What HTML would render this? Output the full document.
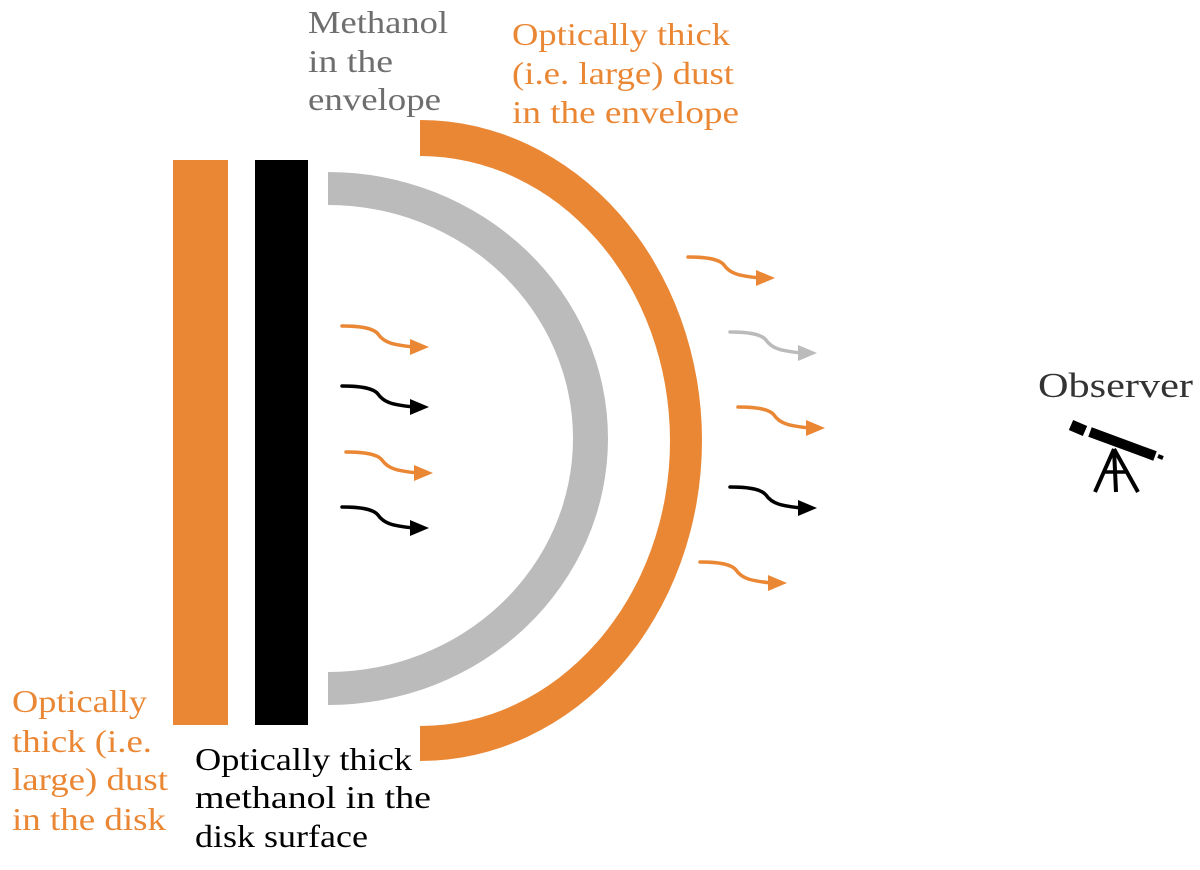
<!DOCTYPE html>
<html><head><meta charset="utf-8"><style>
html,body{margin:0;padding:0;background:#fff;}
svg{display:block;}
text{font-family:"Liberation Serif","DejaVu Serif",serif;font-size:32px;}
</style></head><body>
<svg width="1200" height="870" viewBox="0 0 1200 870" xmlns="http://www.w3.org/2000/svg">
<rect x="173" y="160" width="55" height="565" fill="#ea8735"/>
<rect x="255" y="160" width="53" height="565" fill="#000"/>
<path d="M328,172 A280,266.5 0 0 1 328,705 L328,672 A245,233.5 0 0 0 328,205 Z" fill="#bbbbbb"/>
<path d="M420,120 A282,320.5 0 0 1 420,761 L420,726 A250,285 0 0 0 420,156 Z" fill="#ea8735"/>
<g fill="none" stroke-width="3.5" stroke-linecap="round">
<g transform="translate(342,326)"><path d="M0,0 C22,0 32,3 36,8 C42,17 52,19 72,21" stroke="#ea8735"/><path d="M68,13 L87,21 L68,29 Z" fill="#ea8735" stroke="none"/></g>
<g transform="translate(342,386)"><path d="M0,0 C22,0 32,3 36,8 C42,17 52,19 72,21" stroke="#000"/><path d="M68,13 L87,21 L68,29 Z" fill="#000" stroke="none"/></g>
<g transform="translate(346,452)"><path d="M0,0 C22,0 32,3 36,8 C42,17 52,19 72,21" stroke="#ea8735"/><path d="M68,13 L87,21 L68,29 Z" fill="#ea8735" stroke="none"/></g>
<g transform="translate(342,507)"><path d="M0,0 C22,0 32,3 36,8 C42,17 52,19 72,21" stroke="#000"/><path d="M68,13 L87,21 L68,29 Z" fill="#000" stroke="none"/></g>
<g transform="translate(688,257)"><path d="M0,0 C22,0 32,3 36,8 C42,17 52,19 72,21" stroke="#ea8735"/><path d="M68,13 L87,21 L68,29 Z" fill="#ea8735" stroke="none"/></g>
<g transform="translate(730,332)"><path d="M0,0 C22,0 32,3 36,8 C42,17 52,19 72,21" stroke="#bbbbbb"/><path d="M68,13 L87,21 L68,29 Z" fill="#bbbbbb" stroke="none"/></g>
<g transform="translate(738,407)"><path d="M0,0 C22,0 32,3 36,8 C42,17 52,19 72,21" stroke="#ea8735"/><path d="M68,13 L87,21 L68,29 Z" fill="#ea8735" stroke="none"/></g>
<g transform="translate(730,487)"><path d="M0,0 C22,0 32,3 36,8 C42,17 52,19 72,21" stroke="#000"/><path d="M68,13 L87,21 L68,29 Z" fill="#000" stroke="none"/></g>
<g transform="translate(700,562)"><path d="M0,0 C22,0 32,3 36,8 C42,17 52,19 72,21" stroke="#ea8735"/><path d="M68,13 L87,21 L68,29 Z" fill="#ea8735" stroke="none"/></g>
</g>
<g fill="#6e6e6e">
<text x="308" y="33" textLength="140" lengthAdjust="spacingAndGlyphs">Methanol</text>
<text x="308" y="72" textLength="85" lengthAdjust="spacingAndGlyphs">in the</text>
<text x="308" y="110" textLength="133" lengthAdjust="spacingAndGlyphs">envelope</text>
</g>
<g fill="#ea8735">
<text x="512" y="45" textLength="218" lengthAdjust="spacingAndGlyphs">Optically thick</text>
<text x="512" y="84" textLength="222" lengthAdjust="spacingAndGlyphs">(i.e. large) dust</text>
<text x="512" y="123" textLength="227" lengthAdjust="spacingAndGlyphs">in the envelope</text>
<text x="12" y="712" textLength="135" lengthAdjust="spacingAndGlyphs">Optically</text>
<text x="12" y="752" textLength="140" lengthAdjust="spacingAndGlyphs">thick (i.e.</text>
<text x="12" y="790" textLength="156" lengthAdjust="spacingAndGlyphs">large) dust</text>
<text x="12" y="830" textLength="154" lengthAdjust="spacingAndGlyphs">in the disk</text>
</g>
<g fill="#000">
<text x="195" y="770" textLength="217" lengthAdjust="spacingAndGlyphs">Optically thick</text>
<text x="195" y="808" textLength="236" lengthAdjust="spacingAndGlyphs">methanol in the</text>
<text x="195" y="847" textLength="173" lengthAdjust="spacingAndGlyphs">disk surface</text>
</g>
<text x="1038" y="397" fill="#333" style="font-size:35px" textLength="155" lengthAdjust="spacingAndGlyphs">Observer</text>
<g stroke="#000" stroke-linecap="butt" fill="none">
<line x1="1071" y1="425" x2="1085" y2="431" stroke-width="11"/>
<line x1="1090" y1="432" x2="1155" y2="456" stroke-width="10"/>
<line x1="1158" y1="456" x2="1163" y2="458" stroke-width="4"/>
<line x1="1114" y1="449" x2="1095" y2="492" stroke-width="4"/>
<line x1="1114" y1="449" x2="1138" y2="492" stroke-width="4"/>
<line x1="1114" y1="449" x2="1116" y2="492" stroke-width="4"/>
<line x1="1104" y1="472" x2="1128" y2="472" stroke-width="3.5"/>
</g>
</svg>
</body></html>
